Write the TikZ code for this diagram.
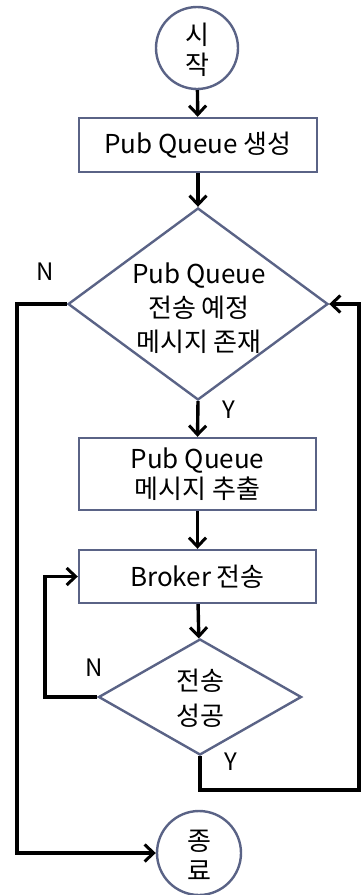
\documentclass[tikz,border=0pt]{standalone}
\usepackage{fontspec}
\setmainfont{Noto Sans CJK KR}
\usetikzlibrary{shapes.geometric,arrows.meta}
\definecolor{edgeblue}{HTML}{5A6386}
\begin{document}
\begin{tikzpicture}[x=1pt,y=-1pt,
  shapebox/.style={draw=edgeblue,line width=2.4pt,fill=white,inner sep=0pt},
  procbox/.style={shapebox,rectangle},
  termcirc/.style={shapebox,circle},
  decide/.style={shapebox,diamond},
  txt/.style={align=center,font=\fontsize{26}{30}\selectfont,inner sep=0pt},
  lbl/.style={font=\fontsize{24}{28}\selectfont,inner sep=0pt},
  conn/.style={line width=3.4pt,black},
  arr/.style={conn,-{Straight Barb[length=9pt,width=17pt,line width=3pt]}}
]
\useasboundingbox (0,0) rectangle (361,895);

\node[termcirc,minimum size=82pt] (start) at (197,48) {};
\node[txt] (startt) at (197,50) {시\\작};

\node[procbox,minimum width=238pt,minimum height=54pt] (b1) at (198,145) {};
\node[txt] (b1t) at (b1) {Pub Queue 생성};

\node[decide,minimum width=260pt,minimum height=192pt] (d1) at (198,304) {};
\node[txt,font=\fontsize{26}{34}\selectfont] (d1t) at (199,308) {Pub Queue\\전송 예정\\메시지 존재};

\node[procbox,minimum width=237pt,minimum height=72pt] (b2) at (197.5,474) {};
\node[txt] (b2t) at (b2) {Pub Queue\\메시지 추출};

\node[procbox,minimum width=237pt,minimum height=53pt] (b3) at (197.5,576.5) {};
\node[txt] (b3t) at (b3) {Broker 전송};

\node[decide,minimum width=203pt,minimum height=116pt] (d2) at (200,697) {};
\node[txt,font=\fontsize{26}{35}\selectfont] (d2t) at (200,698) {전송\\성공};

\node[termcirc,minimum size=84pt] (end) at (199,853) {};
\node[txt] (endt) at (199,855) {종\\료};

\node[lbl] (n1) at (45,272) {N};
\node[lbl] (y1) at (229,410) {Y};
\node[lbl] (n2) at (94,668) {N};
\node[lbl] (y2) at (231,762) {Y};

\coordinate (c1) at (17,304);
\coordinate (c2) at (45,697);
\coordinate (c3) at (200,790);
\coordinate (c4) at (359,790);
\coordinate (c5) at (359,304);

\draw[arr] (start) -- (b1);
\draw[arr] (b1) -- (d1);
\draw[arr] (d1.south) -- (b2.north);
\draw[arr] (b2) -- (b3);
\draw[arr] (b3) -- (d2);
\draw[arr] (d2.west) -- (c2) |- (b3.west);
\draw[arr] (d2.south) -- (c3) -- (c4) -- (c5) -- (d1.east);
\draw[arr] (d1.west) -- (c1) |- (end.west);
\end{tikzpicture}
\end{document}
